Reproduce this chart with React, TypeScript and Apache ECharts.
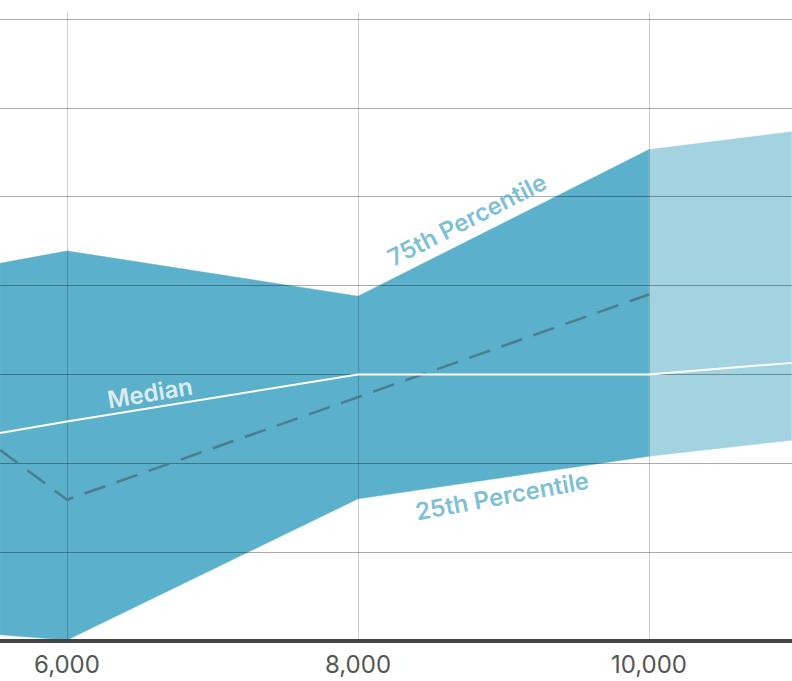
import React, { useEffect, useRef } from "react";
import * as echarts from "echarts";

// x positions (the visible window starts ~5540 and ends ~10980)
const xDark = [5540, 6000, 8000, 10000];
const xLight = [10000, 10980];
const xMedian = [5540, 6000, 8000, 10000, 10980];
const xDashed = [5540, 6000, 10000];

const p25Dark = [0.07, 0.01, 1.6, 2.08];
const p75Dark = [4.25, 4.39, 3.88, 5.53];
const p25Light = [2.08, 2.26];
const p75Light = [5.53, 5.73];
const median = [2.34, 2.47, 3.0, 3.0, 3.13];
const dashed = [2.15, 1.59, 3.9];

const xTicks = [4000, 6000, 8000, 10000, 12000];

const labels = [
  { text: "75th Percentile", x: 8749, y: 4.74, rotate: 27, color: "#5aafcb" },
  { text: "Median", x: 6570, y: 2.79, rotate: 9.5, color: "#ffffff" },
  { text: "25th Percentile", x: 8990, y: 1.63, rotate: 10.5, color: "#5aafcb" },
];

const DARK = "#5bb0cb";
const LIGHT = "#a3d2e0";
const FONT = "Inter, 'Noto Sans', sans-serif";

const pairs = (xs: number[], ys: number[]) => xs.map((x, i) => [x, ys[i]]);

const bandSeries = (xs: number[], lo: number[], hi: number[], color: string) => ({
  type: "custom",
  clip: true,
  z: 1,
  silent: true,
  data: xs.map((x, i) => [x, lo[i], hi[i]]),
  encode: { x: 0, y: [1, 2] },
  renderItem: (params: any, api: any) => {
    if (params.dataIndex !== 0) return null;
    const lower = xs.map((x, i) => api.coord([x, lo[i]]));
    const upper = xs.map((x, i) => api.coord([x, hi[i]])).reverse();
    return {
      type: "polygon",
      shape: { points: lower.concat(upper) },
      style: { fill: color, stroke: color, lineWidth: 0.5 },
    };
  },
});

export default function App() {
  const ref = useRef<HTMLDivElement>(null);
  useEffect(() => {
    if (!ref.current) return;
    const chart = echarts.init(ref.current, undefined, { renderer: "svg" });
    const xMin = xTicks[0];
    const xMax = xTicks[xTicks.length - 1];
    chart.setOption({
      animation: false,
      backgroundColor: "#ffffff",
      grid: [
        { left: -224, right: -148, top: 19, bottom: 40, outerBoundsMode: "none", containLabel: false },
        { left: -224, right: -148, top: 12, bottom: 40, outerBoundsMode: "none", containLabel: false },
      ],
      xAxis: [
        {
          type: "value",
          gridIndex: 0,
          min: xMin,
          max: xMax,
          interval: 2000,
          z: 4,
          axisLine: { show: true, lineStyle: { color: "#444444", width: 4 } },
          axisTick: { show: false },
          splitLine: { show: false },
          axisLabel: {
            color: "#555555",
            fontSize: 24,
            fontFamily: FONT,
            margin: 11,
            showMinLabel: false,
            showMaxLabel: false,
            formatter: (v: number) => v.toLocaleString("en-US"),
          },
        },
        {
          type: "value",
          gridIndex: 1,
          min: xMin,
          max: xMax,
          interval: 2000,
          z: 3,
          axisLine: { show: false },
          axisTick: { show: false },
          axisLabel: { show: false },
          splitLine: { show: true, lineStyle: { color: "rgba(0,0,0,0.2)", width: 1 } },
        },
      ],
      yAxis: [
        {
          type: "value",
          gridIndex: 0,
          min: 0,
          max: 7,
          interval: 1,
          z: 3,
          axisLine: { show: false },
          axisTick: { show: false },
          axisLabel: { show: false },
          splitLine: { show: true, lineStyle: { color: "rgba(0,0,0,0.33)", width: 1 } },
        },
        {
          type: "value",
          gridIndex: 1,
          min: 0,
          max: 7,
          show: false,
          splitLine: { show: false },
        },
      ],
      series: [
        bandSeries(xDark, p25Dark, p75Dark, DARK),
        bandSeries(xLight, p25Light, p75Light, LIGHT),
        {
          type: "line",
          data: pairs(xDashed, dashed),
          symbol: "none",
          lineStyle: { color: "#4c7d8c", width: 2.5, type: [22, 12] },
          z: 5,
        },
        {
          type: "line",
          data: pairs(xMedian, median),
          symbol: "none",
          lineStyle: { color: "#ffffff", width: 2 },
          z: 6,
        },
        ...labels.map((l) => ({
          type: "scatter",
          data: [[l.x, l.y]],
          symbolSize: 0,
          z: 7,
          silent: true,
          label: {
            show: true,
            position: "inside",
            formatter: l.text,
            rotate: l.rotate,
            color: l.color,
            fontSize: 24,
            fontWeight: 600,
            fontFamily: FONT,
          },
        })),
      ],
    });
    return () => chart.dispose();
  }, []);
  return (
    <div
      ref={ref}
      style={{ position: "fixed", left: 0, top: 0, width: 792, height: 681 }}
    />
  );
}
